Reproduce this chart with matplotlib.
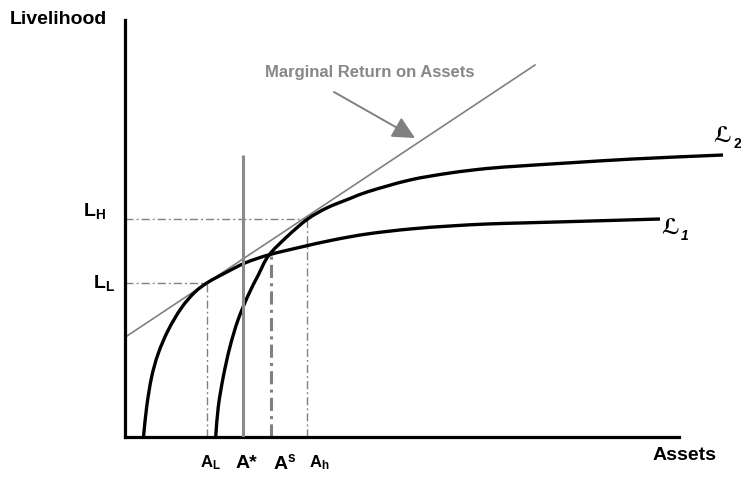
import matplotlib
matplotlib.use('Agg')
import numpy as np
from matplotlib import pyplot as plt
from matplotlib.path import Path
from matplotlib.patches import PathPatch

plt.rcParams['font.family'] = ['Liberation Sans', 'DejaVu Sans']
plt.rcParams['font.weight'] = 'bold'
plt.rcParams['mathtext.fontset'] = 'custom'
plt.rcParams['mathtext.rm'] = 'Liberation Sans:bold'
plt.rcParams['mathtext.bf'] = 'Liberation Sans:bold'

# livelihood curve 1 (assets, livelihood)
l1_assets = [1.85, 2.17, 2.67, 3.33, 4.33, 5.67, 7.0, 8.23, 10.0, 12.0, 14.33,
             17.5, 20.8, 24.2, 28.5, 32.5, 36.2, 39.5, 44.2, 53.5]
l1_value = [0.0, 3.03, 6.03, 8.37, 10.7, 12.95, 14.5, 15.43, 16.4, 17.4, 18.2,
            18.97, 19.7, 20.3, 20.8, 21.1, 21.3, 21.4, 21.53, 21.8]

# livelihood curve 2
l2_assets = [9.07, 9.33, 9.83, 10.5, 11.3, 12.33, 13.33, 14.33, 16.17, 18.23,
             20.17, 22.5, 24.2, 28.5, 32.5, 36.2, 39.5, 44.2, 50.8, 59.8]
l2_value = [0.0, 3.03, 6.03, 9.03, 11.7, 14.2, 16.2, 18.1, 20.0, 21.77,
            22.9, 23.85, 24.5, 25.7, 26.4, 26.85, 27.1, 27.4, 27.8, 28.2]

# marginal return on assets line
mr_assets = [0.0, 41.0]
mr_value = [9.97, 37.2]

# key points
a_low, l_low = 8.23, 15.43
a_high, l_high = 18.23, 21.77
a_star, a_star_top = 11.8, 28.2
a_s, a_s_top = 14.57, 18.3

gray = '#808080'


def smooth_path(xs, ys):
    # bezier segments through the read points (hand drawn look)
    p = np.column_stack([xs, ys]).astype(float)
    n = len(p)
    tang = np.zeros_like(p)
    for i in range(n):
        a = p[max(i - 1, 0)]
        b = p[min(i + 1, n - 1)]
        d = b - a
        tang[i] = d / np.hypot(*d)
    verts = [p[0]]
    codes = [Path.MOVETO]
    for i in range(n - 1):
        seg = np.hypot(*(p[i + 1] - p[i]))
        verts += [p[i] + tang[i] * seg / 3, p[i + 1] - tang[i + 1] * seg / 3, p[i + 1]]
        codes += [Path.CURVE4] * 3
    return Path(verts, codes)


fig = plt.figure(figsize=(7.41, 4.78), dpi=100)
ax = fig.add_axes([125 / 741, 41 / 478, 554 / 741, 417 / 478])
ax.set_xlim(0, 55.4)
ax.set_ylim(0, 41.7)
for s in ['top', 'right']:
    ax.spines[s].set_visible(False)
for s in ['left', 'bottom']:
    ax.spines[s].set_linewidth(2.3)
ax.set_xticks([])
ax.set_yticks([])

# curves
for xs, ys in [(l1_assets, l1_value), (l2_assets, l2_value)]:
    ax.add_patch(PathPatch(smooth_path(xs, ys), facecolor='none', edgecolor='black',
                           lw=2.4, clip_on=False, zorder=3, capstyle='butt'))
ax.plot(mr_assets, mr_value, color=gray, lw=1.2, zorder=2)

# dash-dot guides
thin = (0, (5.8, 2.2, 1.4, 2.2))
ax.plot([0, a_low], [l_low, l_low], color=gray, lw=1.0, ls=thin, zorder=1)
ax.plot([a_low, a_low], [0, l_low], color=gray, lw=1.0, ls=thin, zorder=1)
ax.plot([0, a_high], [l_high, l_high], color=gray, lw=1.0, ls=thin, zorder=1)
ax.plot([a_high, a_high], [0, l_high], color=gray, lw=1.0, ls=thin, zorder=1)
ax.plot([a_s, a_s], [0, a_s_top], color=gray, lw=2.2,
        ls=(0, (4.3, 1.7, 1.0, 1.7)), zorder=2)
ax.plot([a_star, a_star], [0, a_star_top], color='#8a8a8a', lw=2.2, zorder=4,
        solid_capstyle='butt')

# arrow + label
ax.annotate('', xy=(29.0, 29.9), xytext=(20.9, 34.5),
            arrowprops=dict(arrowstyle='-|>', color=gray, lw=1.4,
                            mutation_scale=34, shrinkA=0, shrinkB=0))
ax.text(24.5, 36.5, 'Marginal Return on Assets', color='#878787', fontsize=12,
        ha='center', va='center')

# axis labels
ax.text(-11.5, 41.8, 'Livelihood', fontsize=14, ha='left', va='center')
ax.text(52.8, -1.8, 'Assets', fontsize=14, ha='left', va='center')
ax.text(-4.2, 22.6, r'$\mathbf{L_H}$', fontsize=14, ha='left', va='center')
ax.text(-3.2, 15.4, r'$\mathbf{L_L}$', fontsize=14, ha='left', va='center')
ax.text(7.5, -2.6, r'$\mathbf{A_L}$', fontsize=12, ha='left', va='center')
ax.text(11.1, -2.6, 'A*', fontsize=14, ha='left', va='center')
ax.text(14.8, -2.6, r'$\mathbf{A^s}$', fontsize=14, ha='left', va='center')
ax.text(18.4, -2.6, r'$\mathbf{A_h}$', fontsize=12, ha='left', va='center')

# curve labels (script L)
script = ['STIXGeneral', 'DejaVu Sans']
ax.text(58.8, 29.9, '\u2112', fontsize=15, family=script, fontweight='bold',
        ha='left', va='center')
ax.text(60.8, 29.3, '2', fontsize=10, ha='left', va='center')
ax.text(53.6, 20.7, '\u2112', fontsize=15, family=script, fontweight='bold',
        ha='left', va='center')
ax.text(55.6, 20.1, '1', fontsize=10, style='italic', ha='left', va='center')

plt.savefig('out.png', dpi=100)
